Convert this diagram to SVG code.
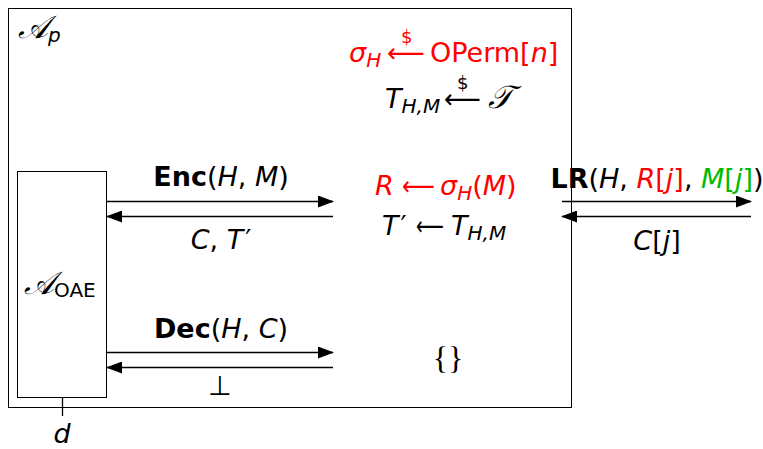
<svg xmlns="http://www.w3.org/2000/svg" width="763" height="449" viewBox="0 0 763 449">
<defs>
<marker id="ah" markerWidth="16" markerHeight="12" refX="15" refY="6" orient="auto" markerUnits="userSpaceOnUse">
<path d="M0,0 L16,6 L0,12 Z" fill="#000"/>
</marker>
</defs>
<style>
text{font-family:"DejaVu Sans","Liberation Sans",sans-serif;font-size:27px;fill:#000}
.i{font-style:italic}
.b{font-weight:bold}
.s{font-size:20px}
.d{font-size:18px}
.r{fill:#ff0000}
.g{fill:#00bb00}
.box{fill:none;stroke:#000;stroke-width:1}
.ln{fill:none;stroke:#000;stroke-width:1.3}
.scr{font-family:"DejaVu Serif","Liberation Serif",serif;font-style:italic;font-size:32px}
.rm{font-family:"Liberation Serif","DejaVu Serif",serif;font-size:32px}
</style>
<rect width="763" height="449" fill="#fff"/>
<g id="adversary-p">
<rect class="box" x="8.5" y="8.5" width="563" height="399"/>
<text x="18" y="38"><tspan class="scr">𝒜</tspan><tspan class="i s" dy="4">p</tspan></text>
</g>
<g id="adversary-oae">
<rect class="box" x="17.5" y="171.5" width="89" height="226"/>
<text x="24" y="294"><tspan class="scr">𝒜</tspan><tspan class="s" dy="3">OAE</tspan></text>
</g>
<g id="game-init">
<text class="r"><tspan class="i" x="349" y="62">σ</tspan><tspan class="i s" dy="5">H</tspan><tspan x="387" y="62" textLength="38" lengthAdjust="spacingAndGlyphs">⟵</tspan><tspan class="d" x="401" y="43">$</tspan><tspan x="430" y="62">OPerm[</tspan><tspan class="i">n</tspan><tspan>]</tspan></text>
<text><tspan class="i" x="385" y="108">T</tspan><tspan class="i s" dy="5">H,M</tspan><tspan x="444" y="108" textLength="37" lengthAdjust="spacingAndGlyphs">⟵</tspan><tspan class="d" x="457" y="89">$</tspan><tspan x="488" y="108" class="scr">𝒯</tspan></text>
</g>
<g id="enc-oracle">
<text class="r"><tspan class="i" x="375" y="195">R</tspan><tspan x="402" textLength="33" lengthAdjust="spacingAndGlyphs">⟵</tspan><tspan x="440" class="i">σ</tspan><tspan class="i s" dy="5">H</tspan><tspan dy="-5">(</tspan><tspan class="i">M</tspan><tspan>)</tspan></text>
<text><tspan class="i" x="382" y="235">T</tspan><tspan dx="2">′</tspan><tspan x="416" textLength="28" lengthAdjust="spacingAndGlyphs">⟵</tspan><tspan x="451" class="i">T</tspan><tspan class="i s" dy="5">H,M</tspan></text>
</g>
<g id="dec-oracle">
<text class="rm" x="448" y="369" text-anchor="middle">{}</text>
</g>
<g id="connectors">
<line class="ln" x1="107" y1="201.5" x2="333" y2="201.5" marker-end="url(#ah)"/>
<line class="ln" x1="333" y1="216.5" x2="107" y2="216.5" marker-end="url(#ah)"/>
<line class="ln" x1="107" y1="352.5" x2="333" y2="352.5" marker-end="url(#ah)"/>
<line class="ln" x1="333" y1="367.5" x2="107" y2="367.5" marker-end="url(#ah)"/>
<line class="ln" x1="562" y1="201.5" x2="751" y2="201.5" marker-end="url(#ah)"/>
<line class="ln" x1="751" y1="216.5" x2="562" y2="216.5" marker-end="url(#ah)"/>
<line class="ln" x1="62.5" y1="397" x2="62.5" y2="416"/>
</g>
<g id="labels">
<text x="221" y="186" text-anchor="middle"><tspan class="b">Enc</tspan><tspan>(</tspan><tspan class="i">H</tspan><tspan>, </tspan><tspan class="i">M</tspan><tspan>)</tspan></text>
<text x="221" y="249" text-anchor="middle"><tspan class="i">C</tspan><tspan>, </tspan><tspan class="i">T</tspan><tspan dx="2">′</tspan></text>
<text x="221" y="338" text-anchor="middle"><tspan class="b">Dec</tspan><tspan>(</tspan><tspan class="i">H</tspan><tspan>, </tspan><tspan class="i">C</tspan><tspan>)</tspan></text>
<text x="220" y="395" text-anchor="middle">⊥</text>
<text x="657" y="188" text-anchor="middle"><tspan class="b">LR</tspan><tspan>(</tspan><tspan class="i">H</tspan><tspan>, </tspan><tspan class="r"><tspan class="i">R</tspan>[<tspan class="i">j</tspan>]</tspan><tspan>, </tspan><tspan class="g"><tspan class="i">M</tspan>[<tspan class="i">j</tspan>]</tspan><tspan>)</tspan></text>
<text x="657" y="250" text-anchor="middle"><tspan class="i">C</tspan>[<tspan class="i">j</tspan>]</text>
<text class="i" x="62" y="443" text-anchor="middle">d</text>
</g>
</svg>
